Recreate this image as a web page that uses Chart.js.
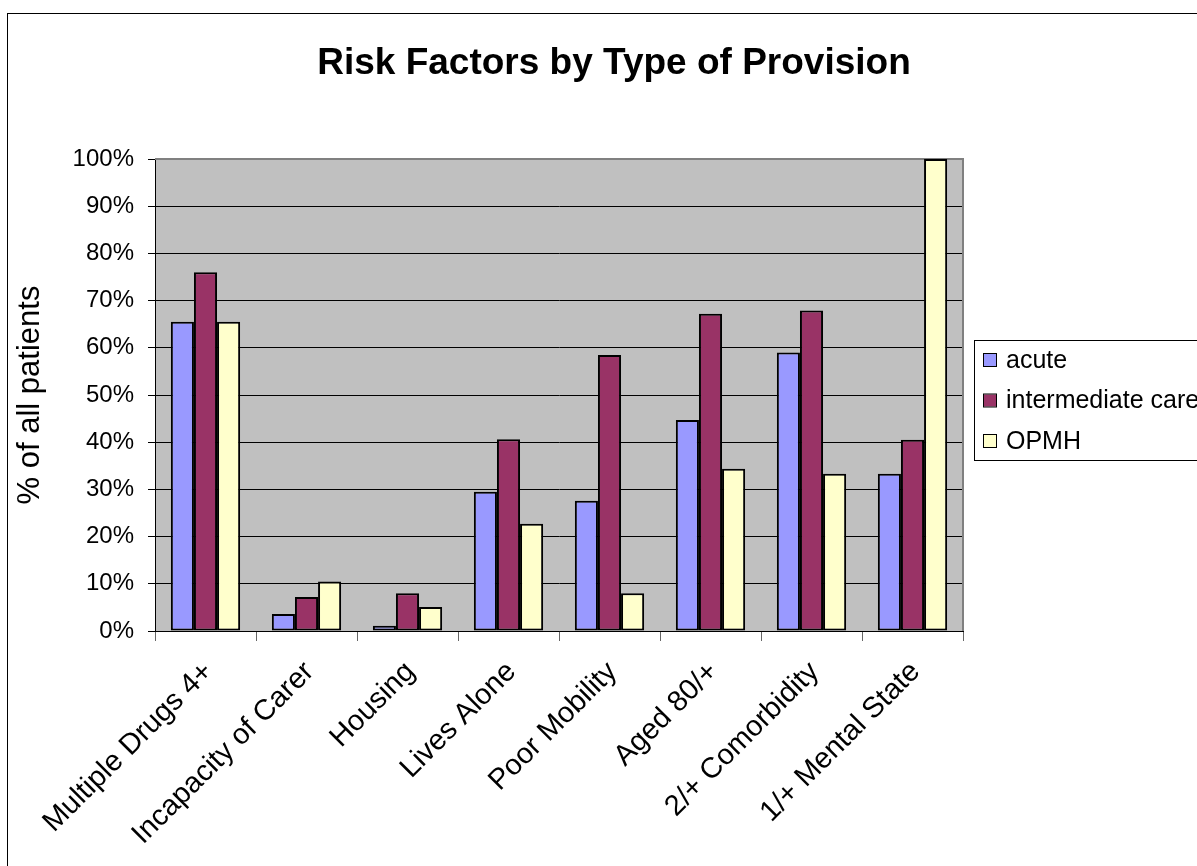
<!DOCTYPE html>
<html>
<head>
<meta charset="utf-8">
<title>Risk Factors by Type of Provision</title>
<script src="https://cdn.jsdelivr.net/npm/chart.js@4/dist/chart.umd.min.js"></script>
<style>
  html, body { margin: 0; padding: 0; background: #fff; overflow: hidden; }
  body { width: 1197px; height: 866px; position: relative; }
  #frame {
    position: absolute; left: 7px; top: 13px;
    width: 1212px; height: 860px;
    border: 1px solid #000;
  }
  #chart { display: block; }
</style>
</head>
<body>
<div id="frame"><canvas id="chart" width="1212" height="860"></canvas></div>
<script>
// Risk factor categories along the x axis
const categories = [
  'Multiple Drugs 4+', 'Incapacity of Carer', 'Housing', 'Lives Alone',
  'Poor Mobility', 'Aged 80/+', '2/+ Comorbidity', '1/+ Mental State'
];

// Share of patients (%) with each risk factor, by type of provision
const acute        = [65.5, 3.6, 1.1, 29.5, 27.6, 44.7, 59.0, 33.3];
const intermediate = [76.0, 7.2, 8.0, 40.6, 58.5, 67.2, 67.9, 40.5];
const opmh         = [65.5, 10.5, 5.1, 22.7, 8.0, 34.4, 33.3, 100.0];

const seriesNames = ['acute', 'intermediate care', 'OPMH'];
const seriesColors = ['#9999FF', '#993366', '#FFFFCC'];

// Y axis tick values (percent)
const yTicks = [0, 10, 20, 30, 40, 50, 60, 70, 80, 90, 100];

const chartTitle = 'Risk Factors by Type of Provision';

const FONT = 'Arial, "Liberation Sans", sans-serif';

// Grey plot background, grey top/right plot border, centred title
const plotArea = {
  id: 'plotArea',
  beforeDraw(chart) {
    const { ctx, chartArea: a } = chart;
    ctx.save();
    ctx.fillStyle = '#ffffff';
    ctx.fillRect(0, 0, chart.width, chart.height);
    ctx.fillStyle = '#C0C0C0';
    ctx.fillRect(a.left, a.top, a.right - a.left, a.bottom - a.top);
    ctx.fillStyle = '#000';
    ctx.font = 'bold 37px ' + FONT;
    ctx.textAlign = 'center';
    ctx.textBaseline = 'middle';
    ctx.fillText(chartTitle, chart.width / 2, 50);
    ctx.restore();
  },
  beforeDatasetsDraw(chart) {
    const { ctx, chartArea: a } = chart;
    ctx.save();
    ctx.strokeStyle = '#808080';
    ctx.lineWidth = 2;
    ctx.beginPath();
    ctx.moveTo(a.left, a.top);
    ctx.lineTo(a.right, a.top);
    ctx.lineTo(a.right, a.bottom);
    ctx.stroke();
    ctx.restore();
  }
};

// Boxed legend to the right of the plot
const boxLegend = {
  id: 'boxLegend',
  afterDraw(chart) {
    const { ctx } = chart;
    const x = 966, y = 326, w = 260, h = 120;
    ctx.save();
    ctx.strokeStyle = '#000';
    ctx.lineWidth = 1;
    ctx.strokeRect(x + 0.5, y + 0.5, w, h);
    ctx.font = '25px ' + FONT;
    ctx.textBaseline = 'middle';
    ctx.textAlign = 'left';
    chart.data.datasets.forEach((ds, i) => {
      const cy = y + 20 + i * 40.5;
      ctx.fillStyle = ds.backgroundColor;
      ctx.fillRect(x + 10, cy - 6, 12, 12);
      ctx.strokeStyle = '#000';
      ctx.lineWidth = 1;
      ctx.strokeRect(x + 9.5, cy - 6.5, 13, 13);
      ctx.fillStyle = '#000';
      ctx.fillText(ds.label, x + 32, cy + 1);
    });
    ctx.restore();
  }
};

const datasets = [acute, intermediate, opmh].map((values, i) => ({
  label: seriesNames[i],
  data: values,
  backgroundColor: seriesColors[i],
  borderColor: '#000000',
  borderWidth: 2,
  borderSkipped: false,
  categoryPercentage: 0.686,
  barPercentage: 1.0
}));

new Chart(document.getElementById('chart'), {
  type: 'bar',
  data: { labels: categories, datasets },
  plugins: [plotArea, boxLegend],
  options: {
    responsive: false,
    animation: false,
    devicePixelRatio: 1,
    layout: { padding: { left: 0, top: 145, right: 257, bottom: 0 } },
    plugins: {
      legend: { display: false },
      tooltip: { enabled: false },
      title: { display: false }
    },
    scales: {
      x: {
        offset: true,
        grid: {
          display: true,
          offset: true,
          drawOnChartArea: false,
          drawTicks: true,
          tickLength: 10,
          color: '#666666'
        },
        border: { display: true, color: '#000', width: 1 },
        ticks: {
          autoSkip: false,
          minRotation: 45,
          maxRotation: 45,
          color: '#000',
          padding: 14,
          labelOffset: 3,
          font: { family: FONT, size: 29 }
        },
        afterFit(scale) { scale.height = 243; }
      },
      y: {
        min: 0,
        max: 100,
        afterBuildTicks(scale) { scale.ticks = yTicks.map(v => ({ value: v })); },
        grid: {
          color: ctx => (ctx.tick && ctx.tick.value === 100 ? '#808080' : '#000000'),
          tickColor: '#000',
          lineWidth: 1,
          drawTicks: true,
          tickLength: 7
        },
        border: { display: true, color: '#000', width: 1 },
        ticks: {
          color: '#000',
          padding: 14,
          font: { family: FONT, size: 24 },
          callback: v => v + '%'
        },
        title: {
          display: true,
          text: '% of all patients',
          color: '#000',
          font: { family: FONT, size: 31, lineHeight: 1.2 },
          padding: { top: 4, bottom: 0 }
        },
        afterFit(scale) { scale.width = 147; }
      }
    }
  }
});
</script>
</body>
</html>
